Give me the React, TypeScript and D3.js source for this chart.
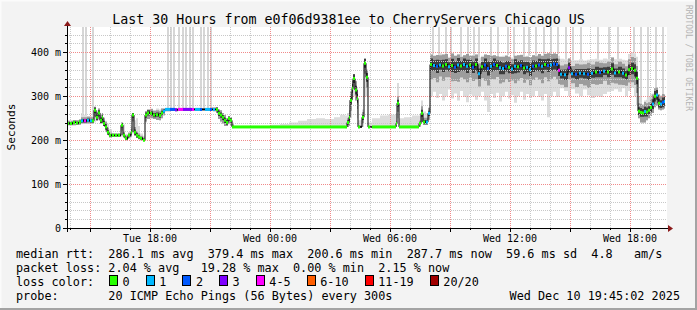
import React from 'react';
import * as d3 from 'd3';

const W = 697;
const H = 310;
const START = new Date(2025, 11, 9, 13, 51);
const SPAN_HOURS = 30;
const Y_MAX = 457.5;

// sample times, minutes after window start (each sample holds until the next)
const sampleMin = [
  0, 9, 18, 27, 36, 42, 51, 60, 69, 75,
  81, 87, 93, 99, 105, 108, 114, 120, 126, 135,
  144, 153, 162, 168, 174, 183, 192, 195, 201, 207,
  213, 219, 228, 234, 240, 249, 258, 267, 276, 282,
  288, 294, 309, 324, 333, 348, 375, 384, 399, 414,
  429, 438, 447, 453, 459, 465, 471, 477, 483, 489,
  495, 501, 585, 612, 639, 666, 693, 720, 747, 774,
  801, 819, 834, 840, 846, 849, 855, 858, 864, 870,
  873, 885, 891, 897, 903, 915, 939, 963, 987, 990,
  996, 1011, 1035, 1056, 1062, 1068, 1077, 1083, 1089, 1098,
  1107, 1116, 1125, 1134, 1143, 1152, 1161, 1170, 1179, 1188,
  1197, 1206, 1215, 1224, 1233, 1242, 1251, 1260, 1269, 1278,
  1287, 1296, 1305, 1314, 1323, 1332, 1341, 1350, 1359, 1368,
  1377, 1386, 1395, 1404, 1413, 1422, 1431, 1440, 1449, 1458,
  1467, 1473, 1479, 1491, 1503, 1512, 1524, 1536, 1548, 1560,
  1572, 1584, 1596, 1608, 1620, 1632, 1641, 1653, 1665, 1674,
  1683, 1692, 1701, 1707, 1713, 1719, 1725, 1731, 1737, 1743,
  1749, 1755, 1761, 1767, 1773, 1779, 1785, 1791,
];
const lastSampleEndMin = 1794;

// median round-trip time, ms
const medianMs = [
  238, 238, 240, 239, 241, 244, 244, 245, 244, 244,
  268, 252, 262, 245, 252, 238, 230, 218, 211, 211,
  211, 211, 234, 211, 204, 211, 218, 257, 218, 211,
  207, 204, 200, 257, 262, 261, 257, 258, 256, 262,
  266, 270, 270, 269, 270, 270, 270, 270, 270, 270,
  270, 270, 270, 261, 257, 252, 245, 240, 249, 245,
  230, 230, 230, 230, 230, 230, 230, 230, 230, 230,
  230, 230, 230, 240, 252, 291, 318, 340, 314, 295,
  230, 252, 375, 343, 230, 230, 230, 230, 238, 284,
  230, 230, 230, 238, 261, 241, 241, 261, 372, 370,
  368, 371, 369, 372, 367, 370, 366, 371, 369, 372,
  368, 371, 366, 372, 351, 367, 371, 363, 368, 372,
  370, 365, 363, 368, 366, 362, 368, 367, 370, 364,
  366, 361, 368, 369, 371, 368, 372, 370, 371, 373,
  372, 359, 350, 349, 365, 351, 350, 352, 351, 350,
  352, 355, 354, 357, 355, 362, 353, 355, 352, 348,
  360, 363, 359, 341, 266, 263, 262, 265, 264, 268,
  274, 282, 300, 303, 284, 282, 286, 288,
];

// packet-loss bucket index (into lossLabels)
const lossBin = [
  0, 0, 0, 0, 0, 1, 4, 1, 1, 0,
  0, 0, 0, 0, 0, 0, 0, 0, 0, 0,
  0, 0, 0, 0, 0, 0, 0, 0, 0, 0,
  0, 0, 0, 0, 0, 0, 0, 0, 0, 0,
  1, 1, 2, 3, 4, 3, 4, 1, 2, 1,
  2, 1, 0, 0, 0, 0, 0, 0, 0, 0,
  0, 0, 0, 0, 0, 0, 0, 0, 0, 0,
  0, 0, 0, 0, 0, 0, 0, 0, 0, 0,
  0, 0, 0, 0, 0, 0, 0, 0, 0, 0,
  0, 0, 0, 0, 0, 0, 1, 1, 0, 1,
  2, 1, 0, 0, 1, 0, 2, 1, 0, 1,
  1, 0, 2, 0, 1, 0, 2, 2, 1, 2,
  0, 1, 1, 2, 0, 1, 1, 0, 2, 0,
  1, 1, 2, 0, 2, 1, 0, 2, 1, 2,
  2, 4, 1, 1, 3, 1, 2, 1, 1, 2,
  1, 0, 2, 1, 0, 0, 1, 0, 1, 0,
  0, 0, 0, 0, 0, 0, 0, 1, 0, 0,
  0, 1, 0, 1, 0, 1, 2, 1,
];

// smoke envelope (fastest / slowest of the 20 pings), ms
const smokeLoMs = [
  234, 234, 234, 235, 235, 238, 238, 238, 238, 238,
  240, 244, 245, 238, 240, 232, 222, 212, 206, 207,
  207, 207, 208, 206, 200, 204, 206, 215, 210, 205,
  202, 200, 198, 240, 248, 250, 248, 246, 245, 250,
  256, 266, 267, 266, 267, 267, 267, 267, 267, 267,
  267, 266, 262, 248, 240, 238, 232, 232, 236, 232,
  228, 229, 229, 229, 229, 229, 229, 229, 229, 229,
  229, 229, 229, 230, 232, 250, 290, 300, 290, 250,
  228, 230, 300, 300, 228, 229, 229, 229, 230, 250,
  228, 229, 229, 230, 240, 235, 235, 245, 300, 310,
  296, 305, 290, 300, 315, 295, 306, 290, 312, 298,
  286, 304, 300, 292, 300, 310, 290, 264, 305, 296,
  308, 288, 300, 310, 295, 302, 285, 300, 310, 292,
  305, 296, 300, 312, 298, 290, 305, 252, 300, 310,
  298, 298, 318, 312, 300, 316, 306, 300, 315, 302,
  296, 300, 298, 305, 310, 312, 316, 310, 318, 300,
  312, 320, 300, 280, 250, 240, 238, 240, 245, 250,
  255, 262, 275, 278, 270, 268, 270, 272,
];
const smokeHiMs = [
  244, 244, 246, 246, 248, 262, 258, 255, 255, 256,
  276, 268, 272, 260, 262, 252, 244, 238, 225, 216,
  215, 216, 240, 236, 214, 218, 232, 262, 245, 250,
  232, 215, 210, 266, 270, 272, 268, 272, 270, 272,
  272, 273, 273, 273, 273, 273, 273, 273, 273, 273,
  274, 274, 275, 270, 268, 262, 258, 250, 254, 252,
  240, 232, 232, 235, 237, 240, 244, 248, 250, 248,
  252, 258, 256, 262, 280, 310, 335, 350, 335, 320,
  245, 270, 385, 360, 240, 250, 256, 258, 262, 330,
  250, 252, 256, 256, 290, 265, 262, 275, 395, 392,
  394, 398, 395, 396, 390, 397, 392, 395, 390, 393,
  396, 392, 394, 395, 388, 392, 395, 394, 392, 393,
  391, 390, 392, 394, 390, 388, 392, 393, 395, 390,
  392, 389, 393, 394, 396, 392, 397, 398, 396, 398,
  396, 392, 385, 384, 386, 382, 382, 384, 381, 383,
  384, 385, 383, 386, 384, 388, 384, 385, 383, 382,
  396, 400, 398, 390, 300, 285, 282, 290, 292, 300,
  305, 306, 318, 320, 305, 302, 305, 304,
];
// half-width of the dense core of the smoke around the median, ms
const smokeCoreMs = [
  3, 3, 3, 3, 3, 4, 4, 4, 4, 4,
  6, 6, 6, 6, 6, 6, 6, 5, 3, 2,
  2, 2, 5, 4, 3, 3, 4, 6, 6, 5,
  4, 3, 3, 6, 6, 5, 5, 5, 5, 5,
  4, 2, 2, 2, 2, 2, 2, 2, 2, 2,
  2, 2, 4, 6, 6, 6, 6, 5, 5, 5,
  3, 0.5, 0.5, 0.5, 0.5, 0.5, 0.5, 0.5, 0.5, 0.5,
  0.5, 0.5, 0.5, 5, 8, 10, 10, 10, 10, 10,
  2, 6, 10, 10, 1, 0.5, 0.5, 0.5, 3, 8,
  1, 0.5, 0.5, 3, 8, 5, 5, 6, 14, 12,
  15, 11, 14, 12, 10, 15, 13, 16, 11, 14,
  15, 12, 13, 14, 12, 11, 15, 16, 12, 14,
  11, 15, 13, 12, 14, 11, 16, 13, 12, 14,
  12, 15, 13, 11, 14, 16, 12, 15, 13, 12,
  14, 13, 10, 12, 11, 9, 12, 10, 11, 13,
  10, 12, 11, 9, 12, 13, 10, 12, 11, 10,
  12, 13, 14, 14, 9, 10, 9, 11, 10, 9,
  10, 11, 12, 11, 10, 9, 11, 10,
];

// minutes at which a ping ran off the top of the scale
const spikeMin = [
  45, 54, 75, 300, 309, 318, 333, 345, 354, 366, 375, 399, 408, 420, 429,
  1095, 1113, 1134, 1149, 1179, 1200, 1218, 1233, 1269, 1290, 1320, 1338,
  1368, 1383, 1404, 1428, 1449, 1470, 1494, 1515, 1539, 1590, 1623, 1650,
  1698, 1719, 1740, 1764, 1785,
];

const lossLabels = ['0', '1', '2', '3', '4-5', '6-10', '11-19', '20/20'];
const lossColors = ['#26ff00', '#00b8ff', '#0059ff', '#7e00ff', '#ff00ff', '#ff5e00', '#ff0000', '#a10000'];

const yMajorTicks = [0, 100, 200, 300, 400];
const yTickLabels = ['0', '100 m', '200 m', '300 m', '400 m'];

const titleText = 'Last 30 Hours from e0f06d9381ee to CherryServers Chicago US';
const rttLine = 'median rtt:  286.1 ms avg  379.4 ms max  200.6 ms min  287.7 ms now  59.6 ms sd  4.8   am/s';
const lossLine = 'packet loss: 2.04 % avg   19.28 % max  0.00 % min  2.15 % now';
const lossColorTitle = 'loss color:';
const probeLine = 'probe:       20 ICMP Echo Pings (56 Bytes) every 300s';
const stampText = 'Wed Dec 10 19:45:02 2025';

const MONO = '"DejaVu Sans Mono", "Liberation Mono", monospace';

export default function App() {
  const L = 67, R = 667, T = 27, B = 228;
  const end = d3.timeHour.offset(START, SPAN_HOURS);
  const x = d3.scaleTime().domain([START, end]).range([L, R]);
  const y = d3.scaleLinear().domain([0, Y_MAX]).range([B, T]);

  type Row = { t: Date; med: number; lo: number; hi: number; core: number; loss: number };
  const rows: Row[] = sampleMin.map((m, i) => ({
    t: d3.timeMinute.offset(START, m),
    med: medianMs[i],
    lo: smokeLoMs[i],
    hi: smokeHiMs[i],
    core: smokeCoreMs[i],
    loss: lossBin[i],
  }));
  const last = rows[rows.length - 1];
  const stepRows = [...rows, { ...last, t: d3.timeMinute.offset(START, lastSampleEndMin) }];

  const band = (lo: (d: Row) => number, hi: (d: Row) => number) =>
    d3.area<Row>().x((d) => x(d.t)).y0((d) => y(lo(d))).y1((d) => y(hi(d))).curve(d3.curveStepAfter)(stepRows) || '';

  const outer = band((d) => d.lo, (d) => d.hi);
  const mid = band((d) => Math.max(d.lo, d.med - d.core * 2.4), (d) => Math.min(d.hi, d.med + d.core * 2.0));
  const inner = band((d) => Math.max(d.lo, d.med - d.core), (d) => Math.min(d.hi, d.med + d.core));
  const medianPath = d3.line<Row>().x((d) => x(d.t)).y((d) => y(d.med)).curve(d3.curveStepAfter)(stepRows) || '';

  const hiAt = (m: number) => {
    const i = d3.bisectRight(sampleMin, m) - 1;
    return smokeHiMs[Math.max(0, i)];
  };

  const hours = d3.timeHour.range(d3.timeHour.ceil(START), end);
  const minorY = d3.range(20, Y_MAX, 20).filter((v) => v % 100 !== 0);
  const fmt = d3.timeFormat('%a %H:%M');
  const labelHours = hours.filter((h) => h.getHours() % 6 === 0);

  // legend boxes laid out as rrdtool does in monospace columns
  const charW = 7.1;
  const legendItems: { bx: number; label: string; color: string }[] = [];
  let bx = 109;
  lossLabels.forEach((lab, i) => {
    legendItems.push({ bx, label: lab, color: lossColors[i] });
    bx += 29.6 + lab.length * charW;
  });

  return (
    <svg
      width={W}
      height={H}
      viewBox={`0 0 ${W} ${H}`}
      style={{ position: 'absolute', left: 0, top: 0, display: 'block' }}
      fontFamily={MONO}
    >
      <rect x={0} y={0} width={W} height={H} fill="#f3f3f3" />
      <rect x={0} y={0} width={W} height={1.5} fill="#fbfbfb" />
      <rect x={0} y={0} width={1.5} height={H} fill="#fbfbfb" />
      <rect x={0} y={H - 2} width={W} height={2} fill="#a3a3a3" />
      <rect x={W - 2} y={0} width={2} height={H} fill="#a3a3a3" />

      <rect x={L} y={T} width={R - L} height={B - T} fill="#ffffff" />

      <defs>
        <clipPath id="plotClip">
          <rect x={L} y={T} width={R - L} height={B - T} />
        </clipPath>
      </defs>

      <g clipPath="url(#plotClip)">
        {spikeMin.map((m, i) => {
          const sx = x(d3.timeMinute.offset(START, m));
          const top = y(Y_MAX);
          const bot = y(hiAt(m));
          return <rect key={`s${i}`} x={sx} y={top} width={2} height={Math.max(0, bot - top)} fill="#d6d6d6" />;
        })}
        <path d={outer} fill="#dcdcdc" />
        <path d={mid} fill="#9c9c9c" />
        <path d={inner} fill="#3c3c3c" />
      </g>

      {/* grid */}
      <g shapeRendering="crispEdges">
        {minorY.map((v) => (
          <line key={`hy${v}`} x1={L} x2={R} y1={Math.round(y(v)) + 0.5} y2={Math.round(y(v)) + 0.5}
            stroke="#c8c8c8" strokeDasharray="1,1" />
        ))}
        {hours.filter((h) => h.getHours() % 3 !== 0).map((h, i) => (
          <line key={`hx${i}`} x1={Math.round(x(h)) + 0.5} x2={Math.round(x(h)) + 0.5} y1={T} y2={B}
            stroke="#c8c8c8" strokeDasharray="1,1" />
        ))}
        {yMajorTicks.filter((v) => v > 0).map((v) => (
          <line key={`my${v}`} x1={L} x2={R} y1={Math.round(y(v)) + 0.5} y2={Math.round(y(v)) + 0.5}
            stroke="#f08a8a" strokeDasharray="1,1" />
        ))}
        {hours.filter((h) => h.getHours() % 3 === 0).map((h, i) => (
          <line key={`mx${i}`} x1={Math.round(x(h)) + 0.5} x2={Math.round(x(h)) + 0.5} y1={T} y2={B}
            stroke="#f08a8a" strokeDasharray="1,1" />
        ))}
      </g>

      {/* median line with loss colours */}
      <g clipPath="url(#plotClip)">
        <path d={medianPath} fill="none" stroke="#000" strokeWidth={1} />
        {rows.map((d, i) => {
          const x1 = x(d.t);
          const full = x(stepRows[i + 1].t) - x1;
          const len = full < 5 ? Math.min(full, 2) : full;
          return (
            <line key={`c${i}`} x1={x1} x2={x1 + len} y1={y(d.med)} y2={y(d.med)}
              stroke={lossColors[d.loss]} strokeWidth={3} />
          );
        })}
      </g>

      {/* axes */}
      <g shapeRendering="crispEdges">
        <line x1={L - 4} x2={R + 2} y1={B + 0.5} y2={B + 0.5} stroke="#000" />
        <line x1={L + 0.5} x2={L + 0.5} y1={T - 2} y2={B + 4} stroke="#000" />
        {yMajorTicks.map((v) => (
          <line key={`ty${v}`} x1={L - 4} x2={L} y1={Math.round(y(v)) + 0.5} y2={Math.round(y(v)) + 0.5} stroke="#000" />
        ))}
        {minorY.map((v) => (
          <line key={`tmy${v}`} x1={L - 2} x2={L} y1={Math.round(y(v)) + 0.5} y2={Math.round(y(v)) + 0.5} stroke="#000" />
        ))}
        {hours.map((h, i) => (
          <line key={`tx${i}`} x1={Math.round(x(h)) + 0.5} x2={Math.round(x(h)) + 0.5} y1={B}
            y2={B + (h.getHours() % 3 === 0 ? 4 : 2)} stroke="#000" />
        ))}
      </g>
      <path d={`M${L - 3},${T - 1} L${L + 4},${T - 1} L${L + 0.5},${T - 6} Z`} fill="#8b1a1a" />
      <path d={`M${R + 1},${B - 3} L${R + 1},${B + 4} L${R + 6},${B + 0.5} Z`} fill="#8b1a1a" />

      {/* tick labels */}
      {yMajorTicks.map((v, i) => (
        <text key={`ly${v}`} x={61} y={y(v) + 3.5} textAnchor="end" fontSize={10} fill="#000">
          {yTickLabels[i]}
        </text>
      ))}
      {labelHours.map((h, i) => (
        <text key={`lx${i}`} x={x(h)} y={241.5} textAnchor="middle" fontSize={10} fill="#000">
          {fmt(h)}
        </text>
      ))}

      <text x={15} y={127} transform="rotate(-90 15 127)" textAnchor="middle" fontSize={11.2} fill="#000">
        Seconds
      </text>
      <text x={686} y={5} transform="rotate(90 686 5)" textAnchor="start" fontSize={8} fill="#b4b4b4">
        RRDTOOL / TOBI OETIKER
      </text>

      <text x={348.5} y={23.5} textAnchor="middle" fontSize={13.3} fill="#000">
        {titleText}
      </text>

      <g fontSize={11.8} fill="#000" style={{ whiteSpace: 'pre' }}>
        <text x={16} y={258} xmlSpace="preserve">{rttLine}</text>
        <text x={16} y={272} xmlSpace="preserve">{lossLine}</text>
        <text x={16} y={286} xmlSpace="preserve">{lossColorTitle}</text>
        <text x={16} y={300} xmlSpace="preserve">{probeLine}</text>
        <text x={680} y={300} textAnchor="end" xmlSpace="preserve">{stampText}</text>
      </g>

      {legendItems.map((it, i) => (
        <g key={`lg${i}`}>
          <rect x={it.bx + 0.5} y={275.5} width={8} height={10} fill={it.color} stroke="#000" strokeWidth={1} shapeRendering="crispEdges" />
          <text x={it.bx + 13.5} y={286} fontSize={11.8} fill="#000">{it.label}</text>
        </g>
      ))}
    </svg>
  );
}
